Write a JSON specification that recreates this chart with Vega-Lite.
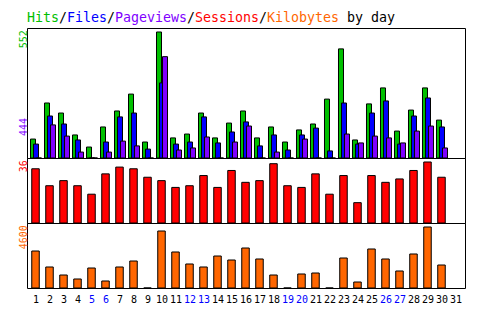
{
  "$schema": "https://vega.github.io/schema/vega-lite/v6.json",
  "background": "white",
  "padding": {"left": 17, "top": 10, "right": 26, "bottom": 14},
  "spacing": 0,
  "bounds": "flush",
  "config": {
    "view": {"stroke": "black", "strokeWidth": 1},
    "font": "DejaVu Sans Mono",
    "axis": {"labelFont": "DejaVu Sans Mono", "domain": false, "ticks": false, "tickSize": 0, "grid": false, "title": null, "labelFontSize": 10}
  },
  "datasets": {
    "daily": [
      {"day": 1, "hits": 83, "files": 61, "pages": 0, "sessions": 32, "kbytes": 2790},
      {"day": 2, "hits": 241, "files": 184, "pages": 145, "sessions": 22, "kbytes": 1584},
      {"day": 3, "hits": 197, "files": 149, "pages": 96, "sessions": 25, "kbytes": 980},
      {"day": 4, "hits": 101, "files": 79, "pages": 26, "sessions": 22, "kbytes": 679},
      {"day": 5, "hits": 48, "files": 0, "pages": 0, "sessions": 17, "kbytes": 1508},
      {"day": 6, "hits": 136, "files": 70, "pages": 26, "sessions": 29, "kbytes": 528},
      {"day": 7, "hits": 206, "files": 180, "pages": 74, "sessions": 33, "kbytes": 1584},
      {"day": 8, "hits": 280, "files": 197, "pages": 53, "sessions": 32, "kbytes": 2036},
      {"day": 9, "hits": 70, "files": 39, "pages": 0, "sessions": 27, "kbytes": 0},
      {"day": 10, "hits": 552, "files": 329, "pages": 444, "sessions": 25, "kbytes": 4298},
      {"day": 11, "hits": 88, "files": 61, "pages": 35, "sessions": 21, "kbytes": 2715},
      {"day": 12, "hits": 105, "files": 70, "pages": 44, "sessions": 22, "kbytes": 1810},
      {"day": 13, "hits": 197, "files": 180, "pages": 92, "sessions": 28, "kbytes": 1584},
      {"day": 14, "hits": 88, "files": 66, "pages": 0, "sessions": 21, "kbytes": 2413},
      {"day": 15, "hits": 153, "files": 114, "pages": 70, "sessions": 31, "kbytes": 2111},
      {"day": 16, "hits": 206, "files": 158, "pages": 140, "sessions": 24, "kbytes": 3016},
      {"day": 17, "hits": 88, "files": 53, "pages": 0, "sessions": 25, "kbytes": 2187},
      {"day": 18, "hits": 136, "files": 101, "pages": 26, "sessions": 35, "kbytes": 980},
      {"day": 19, "hits": 70, "files": 35, "pages": 0, "sessions": 22, "kbytes": 0},
      {"day": 20, "hits": 123, "files": 101, "pages": 83, "sessions": 21, "kbytes": 1056},
      {"day": 21, "hits": 149, "files": 131, "pages": 0, "sessions": 29, "kbytes": 1131},
      {"day": 22, "hits": 258, "files": 31, "pages": 0, "sessions": 17, "kbytes": 0},
      {"day": 23, "hits": 478, "files": 241, "pages": 105, "sessions": 28, "kbytes": 2262},
      {"day": 24, "hits": 79, "files": 61, "pages": 66, "sessions": 12, "kbytes": 452},
      {"day": 25, "hits": 237, "files": 197, "pages": 96, "sessions": 28, "kbytes": 2941},
      {"day": 26, "hits": 307, "files": 250, "pages": 88, "sessions": 24, "kbytes": 2187},
      {"day": 27, "hits": 118, "files": 61, "pages": 66, "sessions": 26, "kbytes": 1282},
      {"day": 28, "hits": 210, "files": 184, "pages": 118, "sessions": 31, "kbytes": 2564},
      {"day": 29, "hits": 307, "files": 263, "pages": 140, "sessions": 36, "kbytes": 4600},
      {"day": 30, "hits": 166, "files": 136, "pages": 44, "sessions": 27, "kbytes": 1734}
    ],
    "titleParts": [
      {"part": "Hits", "series": "hits", "col": 0},
      {"part": "/", "series": "sep", "col": 4},
      {"part": "Files", "series": "files", "col": 5},
      {"part": "/", "series": "sep", "col": 10},
      {"part": "Pageviews", "series": "pages", "col": 11},
      {"part": "/", "series": "sep", "col": 20},
      {"part": "Sessions", "series": "sessions", "col": 21},
      {"part": "/", "series": "sep", "col": 29},
      {"part": "Kilobytes", "series": "kbytes", "col": 30},
      {"part": "by day", "series": "sep", "col": 40}
    ]
  },
  "vconcat": [
    {
      "width": 438,
      "height": 130,
      "resolve": {"scale": {"x": "independent"}, "axis": {"x": "independent"}},
      "layer": [
        {
          "data": {"name": "daily"},
          "encoding": {
            "x": {"field": "day", "type": "ordinal", "scale": {"domain": [1,2,3,4,5,6,7,8,9,10,11,12,13,14,15,16,17,18,19,20,21,22,23,24,25,26,27,28,29,30,31], "paddingInner": 0, "paddingOuter": 0.143}, "axis": null}
          },
          "layer": [
            {
              "mark": {"type": "bar", "color": "#00c000", "stroke": "black", "strokeWidth": 1, "width": 5, "xOffset": -3},
              "encoding": {
                "y": {"field": "hits", "type": "quantitative", "scale": {"domain": [0, 569.5], "nice": false},
                  "axis": {"values": [178, 562], "labelExpr": "datum.value > 300 ? '552' : '444'", "labelAngle": 270, "labelAlign": "right", "labelBaseline": "alphabetic", "labelPadding": 1,
                    "labelColor": {"condition": {"test": "datum.value > 300", "value": "#00c000"}, "value": "#8000ff"}}}
              }
            },
            {
              "mark": {"type": "bar", "color": "#0000ff", "stroke": "black", "strokeWidth": 1, "width": 5, "xOffset": 0},
              "encoding": {
                "y": {"field": "files", "type": "quantitative", "scale": {"domain": [0, 569.5], "nice": false}}
              }
            },
            {
              "mark": {"type": "bar", "color": "#8000ff", "stroke": "black", "strokeWidth": 1, "width": 5, "xOffset": 3},
              "encoding": {
                "y": {"field": "pages", "type": "quantitative", "scale": {"domain": [0, 569.5], "nice": false}}
              }
            }
          ]
        },
        {
          "data": {"name": "titleParts"},
          "mark": {"type": "text", "align": "left", "baseline": "alphabetic", "font": "DejaVu Sans Mono", "fontSize": 13.3},
          "encoding": {
            "x": {"field": "col", "type": "quantitative", "scale": {"domain": [0, 54.75], "nice": false, "zero": false}, "axis": null},
            "y": {"datum": 594},
            "text": {"field": "part"},
            "color": {"field": "series", "type": "nominal", "legend": null,
              "scale": {"domain": ["hits", "files", "pages", "sessions", "kbytes", "sep"], "range": ["#00c000", "#0000ff", "#8000ff", "#ff0000", "#ff6600", "#000000"]}}
          }
        }
      ]
    },
    {
      "width": 438,
      "height": 65,
      "data": {"name": "daily"},
      "mark": {"type": "bar", "color": "#ff0000", "stroke": "black", "strokeWidth": 1, "width": 7.5, "xOffset": -0.5},
      "encoding": {
        "x": {"field": "day", "type": "ordinal", "scale": {"domain": [1,2,3,4,5,6,7,8,9,10,11,12,13,14,15,16,17,18,19,20,21,22,23,24,25,26,27,28,29,30,31], "paddingInner": 0, "paddingOuter": 0.143}, "axis": null},
        "y": {"field": "sessions", "type": "quantitative", "scale": {"domain": [0, 38.36], "nice": false},
          "axis": {"values": [37.36], "labelExpr": "'36'", "labelAngle": 270, "labelAlign": "right", "labelBaseline": "alphabetic", "labelPadding": 1, "labelColor": "#ff0000"}}
      }
    },
    {
      "width": 438,
      "height": 65,
      "data": {"name": "daily"},
      "mark": {"type": "bar", "color": "#ff6600", "stroke": "black", "strokeWidth": 1, "width": 7.5, "xOffset": -0.5},
      "encoding": {
        "x": {"field": "day", "type": "ordinal", "scale": {"domain": [1,2,3,4,5,6,7,8,9,10,11,12,13,14,15,16,17,18,19,20,21,22,23,24,25,26,27,28,29,30,31], "paddingInner": 0, "paddingOuter": 0.143},
          "axis": {"labelAngle": 0, "labelPadding": 6, "labelBaseline": "top", "labelFontSize": 10,
            "labelColor": {"condition": {"test": "indexof([5,6,12,13,19,20,26,27], datum.value) >= 0", "value": "#0000ff"}, "value": "#000000"}}},
        "y": {"field": "kbytes", "type": "quantitative", "scale": {"domain": [0, 4901.6], "nice": false},
          "axis": {"values": [4773], "labelExpr": "'4600'", "labelAngle": 270, "labelAlign": "right", "labelBaseline": "alphabetic", "labelPadding": 1, "labelColor": "#ff6600"}}
      }
    }
  ]
}
